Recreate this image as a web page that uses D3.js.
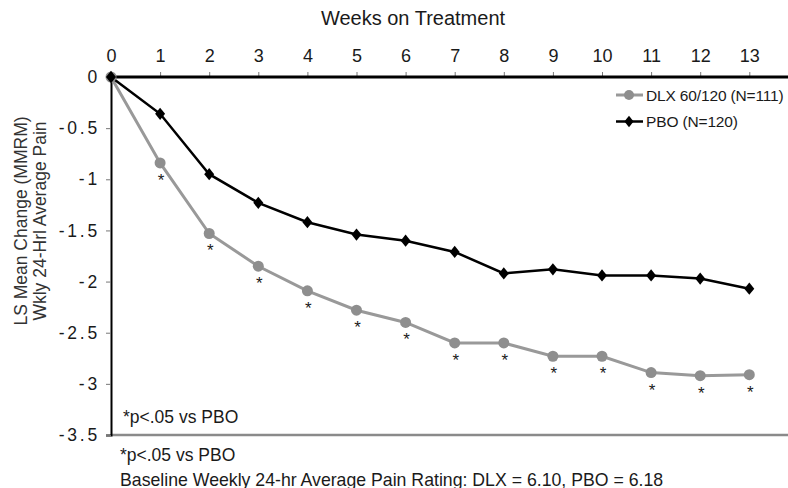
<!DOCTYPE html>
<html>
<head>
<meta charset="utf-8">
<script src="https://cdn.jsdelivr.net/npm/d3@7"></script>
<style>
  html, body { margin: 0; padding: 0; background: #fff; }
  svg { display: block; font-family: "Liberation Sans", Arial, sans-serif; }
</style>
</head>
<body>
<svg id="chart" width="788" height="488"></svg>
<script>
// ---- data ----
const weeks = [0, 1, 2, 3, 4, 5, 6, 7, 8, 9, 10, 11, 12, 13];
const dlxValues = [0, -0.84, -1.53, -1.85, -2.09, -2.28, -2.40, -2.60, -2.60, -2.73, -2.73, -2.89, -2.92, -2.91];
const pboValues = [0, -0.36, -0.95, -1.23, -1.42, -1.54, -1.60, -1.71, -1.92, -1.88, -1.94, -1.94, -1.97, -2.07];
const significantWeeks = [1, 2, 3, 4, 5, 6, 7, 8, 9, 10, 11, 12, 13];
const yTicks = [0, -0.5, -1, -1.5, -2, -2.5, -3, -3.5];
const seriesNames = ["DLX 60/120 (N=111)", "PBO (N=120)"];
const xTitle = "Weeks on Treatment";
const yTitleLines = ["LS Mean Change (MMRM)", "Wkly 24-Hrl Average Pain"];
const footnoteInside = "*p<.05 vs PBO";
const footnoteLines = ["*p<.05 vs PBO", "Baseline Weekly 24-hr Average Pain Rating: DLX = 6.10, PBO = 6.18"];

// ---- layout ----
const svg = d3.select("#chart");
const x0 = 111, x13 = 749.3, yTop = 77, yBot = 435, axisRight = 788;
const x = d3.scaleLinear().domain([0, 13]).range([x0, x13]);
const y = d3.scaleLinear().domain([0, -3.5]).range([yTop, yBot]);
const grayLine = "#999999", grayMark = "#8e8e8e", txt = "#1a1a1a";

// bottom (gray) frame line
svg.append("line").attr("x1", x0).attr("x2", axisRight).attr("y1", yBot).attr("y2", yBot)
  .attr("stroke", "#8a8a8a").attr("stroke-width", 2.5);

// y axis
const yAxis = d3.axisLeft(y).tickValues(yTicks).tickSize(5).tickPadding(8)
  .tickFormat(d => d === 0 ? "0" : d3.format("")(d).replace("−", "-"));
const gy = svg.append("g").attr("transform", `translate(${x0},0)`).call(yAxis);
gy.select(".domain").attr("stroke", "#000").attr("stroke-width", 2);
gy.selectAll(".tick line").attr("stroke", "#777").attr("stroke-width", 1);
gy.selectAll(".tick text").attr("font-size", 17.5).attr("fill", txt)
  .attr("font-family", "Liberation Sans, Arial, sans-serif")
  .attr("letter-spacing", 2.8).attr("dx", 2);

// top x axis
const xAxis = d3.axisTop(x).tickValues(weeks).tickSize(5).tickPadding(10).tickFormat(d3.format("d"));
const gx = svg.append("g").attr("transform", `translate(0,${yTop})`).call(xAxis);
gx.select(".domain").remove();
gx.selectAll(".tick line").attr("stroke", "#777").attr("stroke-width", 1);
gx.selectAll(".tick text").attr("font-size", 18).attr("fill", txt)
  .attr("font-family", "Liberation Sans, Arial, sans-serif");
svg.append("line").attr("x1", x0).attr("x2", axisRight).attr("y1", yTop).attr("y2", yTop)
  .attr("stroke", "#000").attr("stroke-width", 3);

// titles
svg.append("text").attr("x", 413).attr("y", 25).attr("text-anchor", "middle")
  .attr("font-size", 20).attr("fill", txt).text(xTitle);
yTitleLines.forEach((t, i) => {
  const cx = 21 + i * 18.5, cy = 221;
  svg.append("text").attr("transform", `translate(${cx},${cy}) rotate(-90)`)
    .attr("text-anchor", "middle").attr("dominant-baseline", "central")
    .attr("font-size", 17.5).attr("fill", "#333").text(t);
});

// lines
const lineGen = d3.line().x((d, i) => x(weeks[i])).y(d => y(d));
svg.append("path").datum(dlxValues).attr("d", lineGen).attr("fill", "none")
  .attr("stroke", grayLine).attr("stroke-width", 3);
svg.append("path").datum(pboValues).attr("d", lineGen).attr("fill", "none")
  .attr("stroke", "#000").attr("stroke-width", 2.5);

// markers
svg.append("g").selectAll("circle").data(dlxValues).join("circle")
  .attr("cx", (d, i) => x(weeks[i])).attr("cy", d => y(d)).attr("r", 5.5).attr("fill", grayMark);
const diamond = d3.symbol().type(d3.symbolDiamond).size(60);
svg.append("g").selectAll("path").data(pboValues).join("path")
  .attr("d", diamond)
  .attr("transform", (d, i) => `translate(${x(weeks[i])},${y(d)}) scale(1.2,0.85)`)
  .attr("fill", "#000");

// significance asterisks
svg.append("g").selectAll("text").data(significantWeeks).join("text")
  .attr("x", d => x(d) + 1).attr("y", d => y(dlxValues[weeks.indexOf(d)]) + 23)
  .attr("text-anchor", "middle").attr("font-size", 17).attr("fill", txt).text("*");

// legend
const legend = [
  { name: seriesNames[0], color: grayLine, mark: "circle", y: 95 },
  { name: seriesNames[1], color: "#000", mark: "diamond", y: 121.5 }
];
legend.forEach(l => {
  svg.append("line").attr("x1", 616).attr("x2", 643).attr("y1", l.y).attr("y2", l.y)
    .attr("stroke", l.color).attr("stroke-width", l.mark === "circle" ? 3 : 2.5);
  if (l.mark === "circle") {
    svg.append("circle").attr("cx", 629).attr("cy", l.y).attr("r", 5).attr("fill", grayMark);
  } else {
    svg.append("path").attr("d", diamond).attr("transform", `translate(629,${l.y}) scale(1.1,0.8)`).attr("fill", "#000");
  }
  svg.append("text").attr("x", 646).attr("y", l.y).attr("dominant-baseline", "central")
    .attr("font-size", 15.5).attr("letter-spacing", -0.15).attr("fill", txt).text(l.name);
});

// footnotes
svg.append("text").attr("x", 123).attr("y", 423).attr("font-size", 17.5).attr("fill", txt).text(footnoteInside);
svg.append("text").attr("x", 120).attr("y", 461).attr("font-size", 17.5).attr("fill", txt).text(footnoteLines[0]);
svg.append("text").attr("x", 120).attr("y", 485.5).attr("font-size", 17.7).attr("fill", txt).text(footnoteLines[1]);
</script>
</body>
</html>
